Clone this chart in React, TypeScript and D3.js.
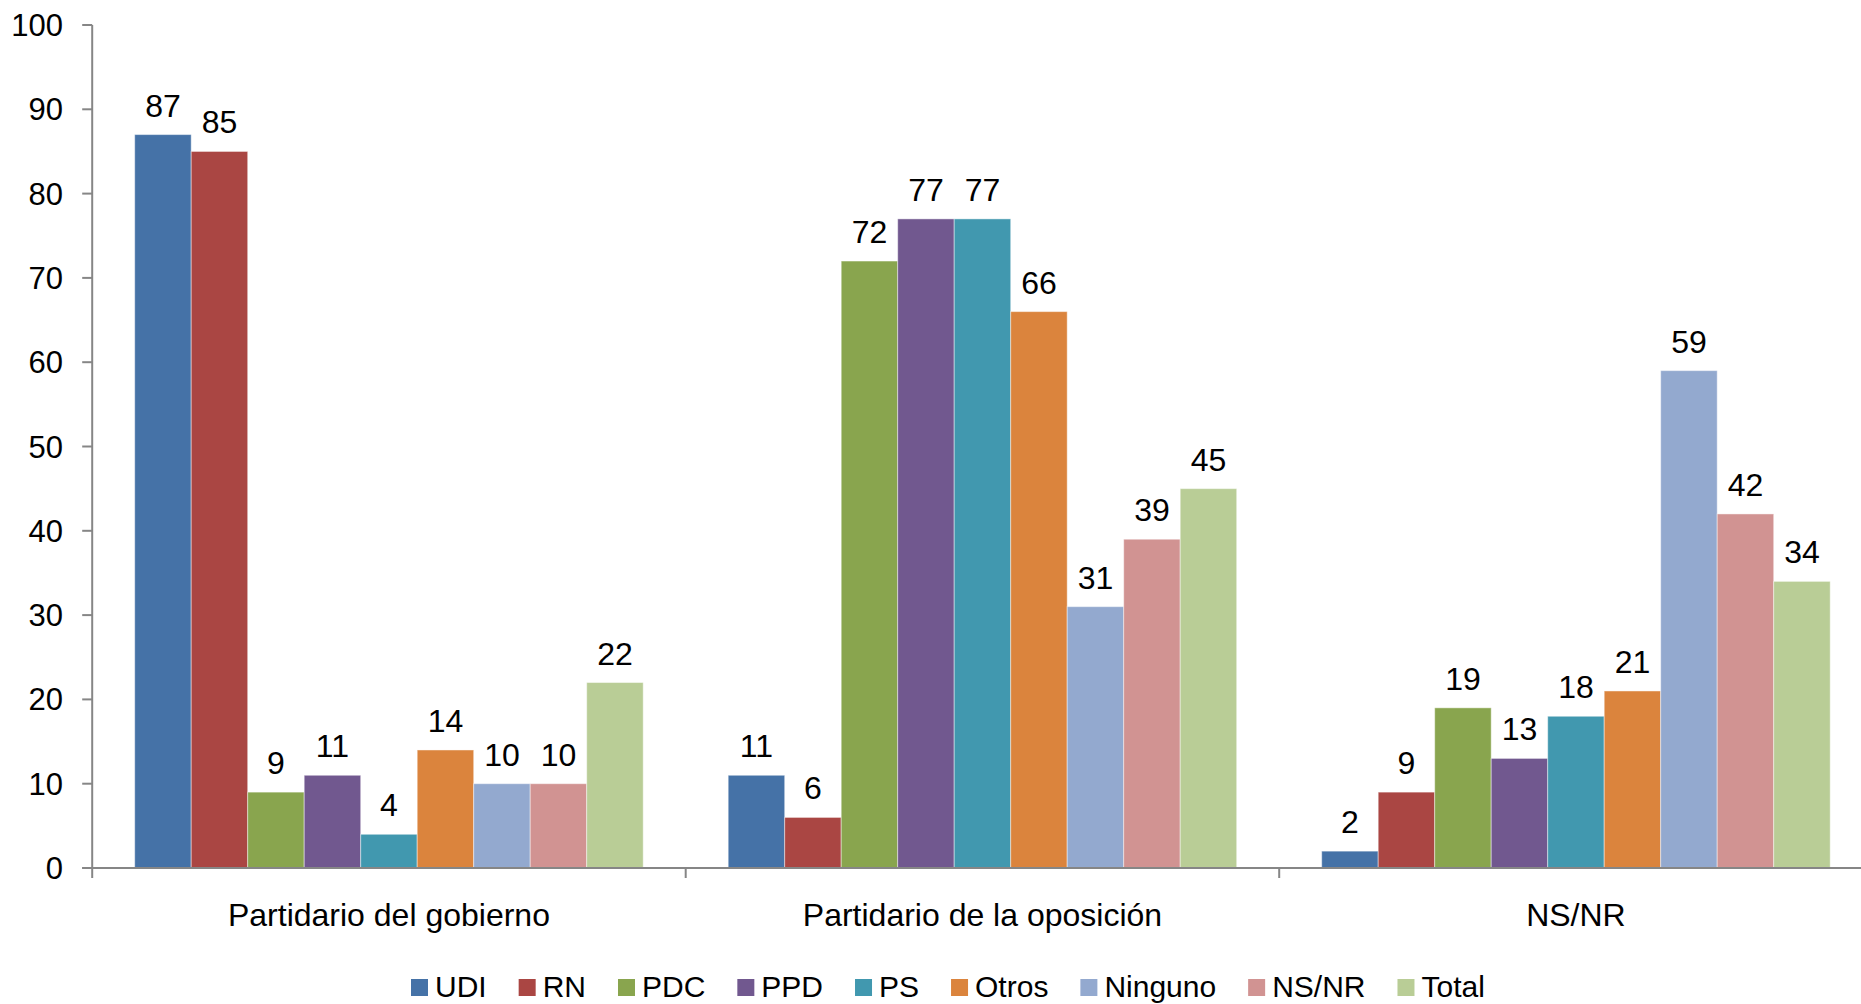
import React from "react";
import * as d3 from "d3";

const categories = ["Partidario del gobierno", "Partidario de la oposición", "NS/NR"];
const series = ["UDI", "RN", "PDC", "PPD", "PS", "Otros", "Ninguno", "NS/NR", "Total"];
const udi = [87, 11, 2];
const rn = [85, 6, 9];
const pdc = [9, 72, 19];
const ppd = [11, 77, 13];
const ps = [4, 77, 18];
const otros = [14, 66, 21];
const ninguno = [10, 31, 59];
const nsnr = [10, 39, 42];
const total = [22, 45, 34];
const yTicks = [0, 10, 20, 30, 40, 50, 60, 70, 80, 90, 100];
const colors = ["#4572A7", "#AA4643", "#89A54E", "#71588F", "#4198AF", "#DB843D", "#93A9CF", "#D19392", "#B9CD96"];

const seriesValues = [udi, rn, pdc, ppd, ps, otros, ninguno, nsnr, total];

const W = 1861;
const H = 1004;
const FONT = "'Liberation Sans', Arial, sans-serif";
const AXIS = "#868686";

function measure(text: string, size: number): number {
  const c = document.createElement("canvas").getContext("2d");
  if (!c) return text.length * size * 0.55;
  c.font = `${size}px ${FONT}`;
  return c.measureText(text).width;
}

export default function App() {
  const left = 92.2;
  const groupW = 593.5;
  const x0 = d3.scaleBand<string>().domain(categories).range([left, left + groupW * categories.length]);
  const side = groupW * 0.0716;
  const x1 = d3.scaleBand<string>().domain(series).range([side, groupW - side]);
  const y = d3.scaleLinear().domain([0, 100]).range([868, 25]);

  const legendSize = 30;
  const sq = 17;
  const items = series.map((s) => ({ s, w: sq + 7 + measure(s, legendSize) }));
  const spacing = 32;
  let lx = 411;
  const legendPos = items.map((it) => {
    const p = lx;
    lx += it.w + spacing;
    return p;
  });

  const xEnd = left + groupW * categories.length;

  return (
    <svg width={W} height={H} style={{ position: "absolute", left: 0, top: 0, background: "#fff" }} fontFamily={FONT}>
      {categories.map((c, ci) => (
        <g key={c} transform={`translate(${x0(c)},0)`}>
          {series.map((s, si) => {
            const v = seriesValues[si][ci];
            const bx = x1(s)!;
            const bw = x1.bandwidth();
            return (
              <g key={s}>
                <rect x={bx} y={y(v)} width={bw} height={y(0) - y(v)} fill={colors[si]} stroke="#ffffff" strokeOpacity={0.45} strokeWidth={1} />
                <text x={bx + bw / 2} y={y(v) - 18} textAnchor="middle" fontSize={32} fill="#000">
                  {v}
                </text>
              </g>
            );
          })}
        </g>
      ))}
      <line x1={left} x2={left} y1={y(100)} y2={y(0) + 10} stroke={AXIS} strokeWidth={2} />
      {yTicks.map((t) => (
        <g key={t}>
          <line x1={left - 10} x2={left} y1={y(t)} y2={y(t)} stroke={AXIS} strokeWidth={2} />
          <text x={63} y={y(t)} dy="0.355em" textAnchor="end" fontSize={31} fill="#000">
            {t}
          </text>
        </g>
      ))}
      <line x1={left - 10} x2={xEnd} y1={y(0)} y2={y(0)} stroke={AXIS} strokeWidth={2} />
      {categories.map((c, ci) =>
        ci > 0 ? (
          <line key={c} x1={x0(c)!} x2={x0(c)!} y1={y(0)} y2={y(0) + 10} stroke={AXIS} strokeWidth={2} />
        ) : null
      )}
      {categories.map((c) => (
        <text key={c} x={x0(c)! + groupW / 2} y={926} textAnchor="middle" fontSize={32} fill="#000">
          {c}
        </text>
      ))}
      {items.map((it, i) => (
        <g key={it.s}>
          <rect x={legendPos[i]} y={979} width={sq} height={sq} fill={colors[i]} />
          <text x={legendPos[i] + sq + 7} y={997} fontSize={legendSize} fill="#000">
            {it.s}
          </text>
        </g>
      ))}
    </svg>
  );
}
